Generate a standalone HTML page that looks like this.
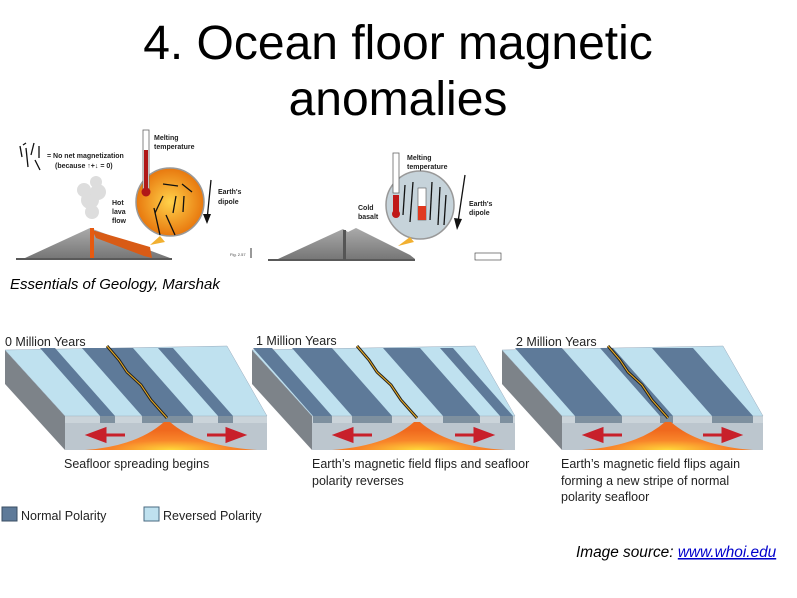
<!DOCTYPE html>
<html><head><meta charset="utf-8"><style>
body{margin:0;background:#fff;width:797px;height:598px;overflow:hidden;font-family:"Liberation Sans",sans-serif}
svg{position:absolute;left:0;top:0}
</style></head><body>
<svg width="797" height="598" viewBox="0 0 797 598">
<defs>
<radialGradient id="hot" cx="0.5" cy="0.5" r="0.5"><stop offset="0" stop-color="#ffd24a"/><stop offset="1" stop-color="#e8780e"/></radialGradient>
<radialGradient id="lava" cx="0.5" cy="1" r="0.7"><stop offset="0" stop-color="#ffd93a"/><stop offset="0.5" stop-color="#f8852a"/><stop offset="1" stop-color="#f06a1e"/></radialGradient>
<linearGradient id="cone" x1="0" x2="0" y1="0" y2="1"><stop offset="0" stop-color="#aaa"/><stop offset="1" stop-color="#777"/></linearGradient>
</defs>
<g font-size="48" text-anchor="middle" fill="#000">
<text x="398" y="59">4. Ocean floor magnetic</text>
<text x="398" y="115">anomalies</text>
</g>

<g>
<line x1="16" y1="259" x2="172" y2="259" stroke="#222" stroke-width="1.5"/>
<path d="M25,258 L90,228 L170,258Z" fill="url(#cone)"/>
<path d="M92,230 L150,247 L152,258 L144,256 L96,238Z" fill="#d85b16"/>
<rect x="90" y="228" width="4" height="30" fill="#e65a10"/>
<g fill="#ddd"><circle cx="90" cy="200" r="9"/><circle cx="98" cy="192" r="8"/><circle cx="84" cy="190" r="7"/><circle cx="92" cy="212" r="7"/><circle cx="96" cy="182" r="6"/></g>
<circle cx="170" cy="202" r="34" fill="url(#hot)" stroke="#999" stroke-width="1.5"/>
<rect x="143" y="130" width="6" height="60" fill="#fff" stroke="#666" stroke-width="0.8"/>
<rect x="144" y="150" width="4" height="40" fill="#b01818"/>
<circle cx="146" cy="192" r="4.5" fill="#b01818"/>
<path d="M150,245 L160,236 L165,242Z" fill="#f2b030"/>
<g stroke="#111" stroke-width="1.3" fill="none">
<line x1="163" y1="184" x2="178" y2="186"/><line x1="182" y1="184" x2="192" y2="192"/><line x1="155" y1="213" x2="163" y2="196"/><line x1="173" y1="213" x2="176" y2="196"/><line x1="183" y1="212" x2="184" y2="196"/><line x1="160" y1="235" x2="154" y2="208"/><line x1="175" y1="235" x2="166" y2="215"/>
<line x1="211" y1="180" x2="207" y2="220"/>
<line x1="22" y1="157" x2="20" y2="146"/><line x1="26" y1="148" x2="28" y2="167"/><line x1="31" y1="155" x2="34" y2="143"/><line x1="39" y1="146" x2="39" y2="158"/><line x1="35" y1="160" x2="40" y2="170"/><line x1="23" y1="145" x2="26" y2="143"/>
</g>
<path d="M203,214 L207,224 L211,214Z" fill="#111"/>
<g font-size="7" font-weight="bold" fill="#222">
<text x="154" y="140">Melting</text><text x="154" y="149">temperature</text>
<text x="47" y="158">= No net magnetization</text><text x="55" y="168">(because ↑+↓ = 0)</text>
<text x="218" y="194">Earth's</text><text x="218" y="204">dipole</text>
<text x="112" y="205">Hot</text><text x="112" y="214">lava</text><text x="112" y="223">flow</text>
</g>
<text x="230" y="256" font-size="4" fill="#444">Fig. 2.57</text>
<line x1="251" y1="248" x2="251" y2="258" stroke="#333"/>
</g>

<g>
<line x1="268" y1="260" x2="415" y2="260" stroke="#222" stroke-width="1.5"/>
<path d="M278,259 L343,229 L348,232 L356,228 L410,255 L415,259Z" fill="url(#cone)"/>
<rect x="343" y="230" width="3" height="30" fill="#555"/>
<circle cx="420" cy="205" r="34" fill="#c6d3da" stroke="#999" stroke-width="1.5"/>
<rect x="393" y="153" width="6" height="40" fill="#fff" stroke="#666" stroke-width="0.8"/>
<circle cx="396" cy="214" r="4" fill="#c01818"/>
<rect x="393" y="195" width="6" height="18" fill="#c01818"/>
<rect x="418" y="188" width="8" height="32" fill="#fff" stroke="#555" stroke-width="0.6"/>
<rect x="418" y="206" width="8" height="14" fill="#e03a20"/>
<path d="M398,246 L410,237 L414,242Z" fill="#f2b030"/>
<g stroke="#111" stroke-width="1.3">
<line x1="405" y1="185" x2="403" y2="215"/><line x1="413" y1="182" x2="410" y2="222"/><line x1="432" y1="182" x2="430" y2="220"/><line x1="440" y1="187" x2="438" y2="225"/><line x1="446" y1="195" x2="444" y2="225"/>
<line x1="465" y1="175" x2="458" y2="222"/>
</g>
<path d="M454,218 L457,230 L462,219Z" fill="#111"/>
<g font-size="7" font-weight="bold" fill="#222">
<text x="407" y="160">Melting</text><text x="407" y="169">temperature</text>
<text x="358" y="210">Cold</text><text x="358" y="219">basalt</text>
<text x="469" y="206">Earth's</text><text x="469" y="215">dipole</text>
</g>
<rect x="475" y="253" width="26" height="7" fill="#fff" stroke="#333" stroke-width="0.6"/>
</g>

<text x="10" y="289" font-size="15" font-style="italic" fill="#000">Essentials of Geology, Marshak</text>

<g id="panels"></g>

<g font-size="12.5" fill="#222">
<text x="5" y="346">0 Million Years</text>
<text x="256" y="345">1 Million Years</text>
<text x="516" y="346">2 Million Years</text>
<text x="64" y="468">Seafloor spreading begins</text>
<text x="312" y="468">Earth’s magnetic field flips and seafloor</text>
<text x="312" y="485">polarity reverses</text>
<text x="561" y="468">Earth’s magnetic field flips again</text>
<text x="561" y="485">forming a new stripe of normal</text>
<text x="561" y="501">polarity seafloor</text>
</g>
<g>
<rect x="2" y="507" width="15" height="14" fill="#5e7a99" stroke="#3a4e63"/>
<text x="21" y="520" font-size="12.5" fill="#222">Normal Polarity</text>
<rect x="144" y="507" width="15" height="14" fill="#bfe1ef" stroke="#4a6a80"/>
<text x="163" y="520" font-size="12.5" fill="#222">Reversed Polarity</text>
</g>
<text x="576" y="557" font-size="15.4" font-style="italic" fill="#000">Image source: <tspan fill="#0000cc" text-decoration="underline">www.whoi.edu</tspan></text>
</svg>
<script>
const panelFronts=[[65,267],[312,515],[562,763]];
const ridges=[167,417,668];
const darkStripes=[[[100,115],[142,193],[218,233]],[[313,332],[352,392],[443,480],[500,513]],[[575,622],[660,673],[712,753]]];
const NS='http://www.w3.org/2000/svg';
const g=document.getElementById('panels');
function mk(t,a){const e=document.createElementNS(NS,t);for(const k in a)e.setAttribute(k,a[k]);g.appendChild(e);return e;}
const off=-60, yb=350, yf=416, yb2=450;
panelFronts.forEach((p,i)=>{
 const [L,R]=p, r=ridges[i];
 let e=mk('polygon',{points:`${L+off},${yb} ${L},${yf} ${L},${yb2} ${L+off},${yb+34}`,fill:'#7d8389'});
 
 
 e=mk('polygon',{points:`${L+off},${yb} ${R-40},${yb-4} ${R},${yf} ${L},${yf}`,fill:'#bfe1ef',stroke:'#9ab',"stroke-width":0.5});
 
 
 darkStripes[i].forEach((s,j)=>{
  const st=mk('polygon',{points:`${s[0]+off},${yb-2} ${s[1]+off},${yb-2} ${s[1]},${yf} ${s[0]},${yf}`,fill:'#5e7a99'});
  
  
  const sf=mk('rect',{x:s[0],y:yf,width:s[1]-s[0],height:7,fill:'#3f556b'});
  
  
 });
 e=mk('rect',{x:L,y:yf,width:R-L,height:7,fill:'#a9b7c2',opacity:0.6});
 
 
 e=mk('rect',{x:L,y:yf+7,width:R-L,height:yb2-yf-7,fill:'#bcc6ce'});
 
 
 e=mk('path',{d:`M${L+20},${yb2} Q${r-30},${yb2-4} ${r-3},${yf+6} L${r+3},${yf+6} Q${r+30},${yb2-4} ${R-10},${yb2} Z`,fill:'url(#lava)'});
 
 
 const pts=`${r+off},${yb-4} ${r+off+12},${yb+10} ${r+off+20},${yb+22} ${r+off+34},${yb+35} ${r+off+44},${yb+50} ${r},${yf+2}`;
 e=mk('polyline',{points:pts,fill:'none',stroke:'#222',"stroke-width":3});
 
 
 e=mk('polyline',{points:pts,fill:'none',stroke:'#f0b020',"stroke-width":1});
 
 
 e=mk('path',{d:`M${L+60},${yf+19} L${L+28},${yf+19} M${L+40},${yf+13} L${L+24},${yf+19} L${L+40},${yf+25} Z`,stroke:'#c8202a',"stroke-width":3,fill:'#c8202a'});
 
 
 e=mk('path',{d:`M${R-60},${yf+19} L${R-28},${yf+19} M${R-40},${yf+13} L${R-24},${yf+19} L${R-40},${yf+25} Z`,stroke:'#c8202a',"stroke-width":3,fill:'#c8202a'});
 
 
});
</script>
</body></html>
